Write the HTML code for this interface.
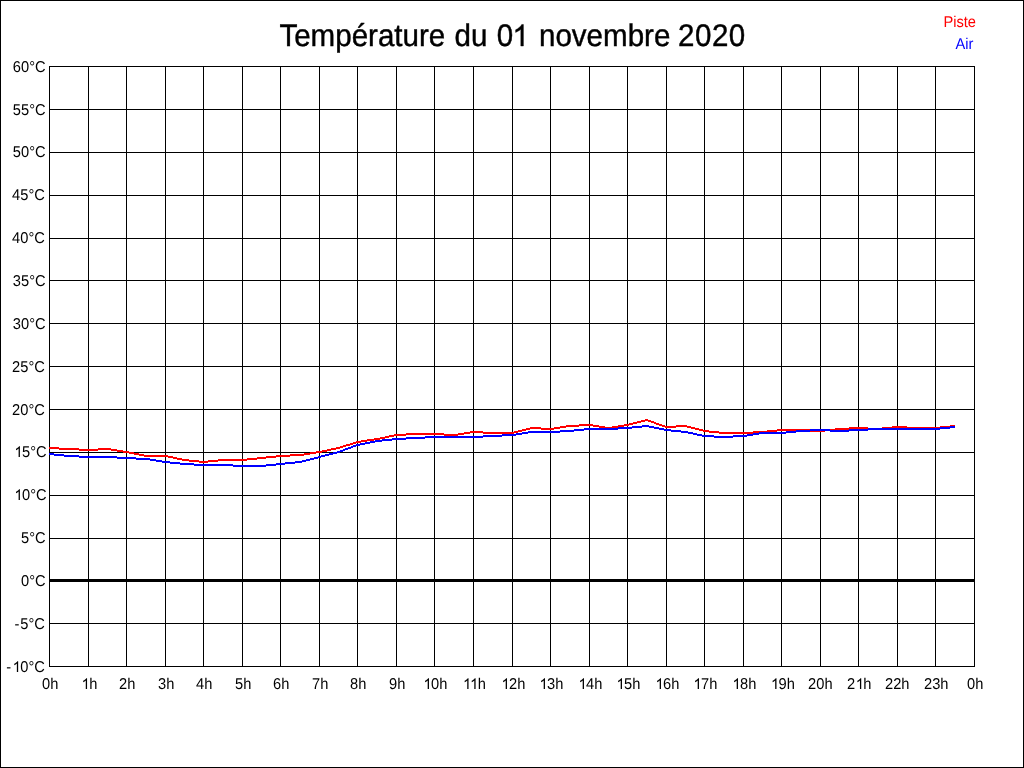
<!DOCTYPE html>
<html><head><meta charset="utf-8"><title>Température du 01 novembre 2020</title>
<style>html,body{margin:0;padding:0;background:#fff;overflow:hidden}svg{display:block}text{font-family:"Liberation Sans",sans-serif;text-rendering:geometricPrecision}.tx{will-change:transform}.l{font-size:14.67px}.t{font-size:29.55px;stroke:#000;stroke-width:0.4px;word-spacing:1.1px}.h{fill:none;stroke:none}</style></head><body>
<svg width="1024" height="768" viewBox="0 0 1024 768">
<rect x="0" y="0" width="1024" height="768" fill="#fff"/>
<g shape-rendering="crispEdges">
<path fill="#000" fill-rule="evenodd" d="M0 0h1024v768h-1024zM1 1v766h1022v-766z"/>
<path fill="#000" d="M49 66h1v601h-1zM88 66h1v601h-1zM126 66h1v601h-1zM165 66h1v601h-1zM203 66h1v601h-1zM242 66h1v601h-1zM280 66h1v601h-1zM319 66h1v601h-1zM357 66h1v601h-1zM396 66h1v601h-1zM434 66h1v601h-1zM473 66h1v601h-1zM512 66h1v601h-1zM550 66h1v601h-1zM589 66h1v601h-1zM627 66h1v601h-1zM666 66h1v601h-1zM704 66h1v601h-1zM743 66h1v601h-1zM781 66h1v601h-1zM820 66h1v601h-1zM858 66h1v601h-1zM897 66h1v601h-1zM935 66h1v601h-1zM974 66h1v601h-1zM49 66h926v1h-926zM49 109h926v1h-926zM49 152h926v1h-926zM49 195h926v1h-926zM49 238h926v1h-926zM49 280h926v1h-926zM49 323h926v1h-926zM49 366h926v1h-926zM49 409h926v1h-926zM49 452h926v1h-926zM49 495h926v1h-926zM49 538h926v1h-926zM49 580h926v1h-926zM49 623h926v1h-926zM49 666h926v1h-926z"/>
<rect x="49" y="579" width="926" height="3" fill="#000"/>
<path fill="#f00" d="M49 447h10v2h-10zM59 448h20v2h-20zM79 449h19v2h-19zM98 448h13v2h-13zM111 449h6v2h-6zM117 450h6v2h-6zM123 451h6v2h-6zM129 452h5v2h-5zM134 453h5v2h-5zM139 454h5v2h-5zM144 455h24v2h-24zM168 456h5v2h-5zM173 457h4v2h-4zM177 458h5v2h-5zM182 459h7v2h-7zM189 460h10v2h-10zM199 461h9v2h-9zM208 460h10v2h-10zM218 459h29v2h-29zM247 458h10v2h-10zM257 457h9v2h-9zM266 456h10v2h-10zM276 455h14v2h-14zM290 454h14v2h-14zM304 453h6v2h-6zM310 452h6v2h-6zM316 451h6v2h-6zM322 450h5v2h-5zM327 449h4v2h-4zM331 448h5v2h-5zM336 447h4v2h-4zM340 446h3v2h-3zM343 445h3v2h-3zM346 444h4v2h-4zM350 443h3v2h-3zM353 442h3v2h-3zM356 441h5v2h-5zM361 440h6v2h-6zM367 439h7v2h-7zM374 438h6v2h-6zM380 437h5v2h-5zM385 436h4v2h-4zM389 435h5v2h-5zM394 434h12v2h-12zM406 433h38v2h-38zM444 434h14v2h-14zM458 433h6v2h-6zM464 432h6v2h-6zM470 431h13v2h-13zM483 432h31v2h-31zM514 431h4v2h-4zM518 430h4v2h-4zM522 429h4v2h-4zM526 428h4v2h-4zM530 427h11v2h-11zM541 428h13v2h-13zM554 427h6v2h-6zM560 426h6v2h-6zM566 425h13v2h-13zM579 424h14v2h-14zM593 425h6v2h-6zM599 426h6v2h-6zM605 427h7v2h-7zM612 426h6v2h-6zM618 425h6v2h-6zM624 424h5v2h-5zM629 423h4v2h-4zM633 422h4v2h-4zM637 421h4v2h-4zM641 420h4v2h-4zM645 419h3v2h-3zM648 420h3v2h-3zM651 421h3v2h-3zM654 422h2v2h-2zM656 423h3v2h-3zM659 424h3v2h-3zM662 425h3v2h-3zM665 426h11v2h-11zM676 425h11v2h-11zM687 426h4v2h-4zM691 427h4v2h-4zM695 428h4v2h-4zM699 429h4v2h-4zM703 430h6v2h-6zM709 431h10v2h-10zM719 432h34v2h-34zM753 431h14v2h-14zM767 430h10v2h-10zM777 429h33v2h-33zM810 430h15v2h-15zM825 429h10v2h-10zM835 428h14v2h-14zM849 427h19v2h-19zM868 428h14v2h-14zM882 427h10v2h-10zM892 426h15v2h-15zM907 427h33v2h-33zM940 426h10v2h-10zM950 425h5v2h-5z"/>
<path fill="#00f" d="M49 453h5v2h-5zM54 454h10v2h-10zM64 455h15v2h-15zM79 456h38v2h-38zM117 457h19v2h-19zM136 458h14v2h-14zM150 459h6v2h-6zM156 460h6v2h-6zM162 461h8v2h-8zM170 462h10v2h-10zM180 463h14v2h-14zM194 464h39v2h-39zM233 465h33v2h-33zM266 464h10v2h-10zM276 463h9v2h-9zM285 462h10v2h-10zM295 461h7v2h-7zM302 460h4v2h-4zM306 459h4v2h-4zM310 458h4v2h-4zM314 457h4v2h-4zM318 456h3v2h-3zM321 455h4v2h-4zM325 454h4v2h-4zM329 453h4v2h-4zM333 452h4v2h-4zM337 451h3v2h-3zM340 450h3v2h-3zM343 449h2v2h-2zM345 448h3v2h-3zM348 447h3v2h-3zM351 446h2v2h-2zM353 445h3v2h-3zM356 444h4v2h-4zM360 443h5v2h-5zM365 442h5v2h-5zM370 441h5v2h-5zM375 440h7v2h-7zM382 439h10v2h-10zM392 438h14v2h-14zM406 437h19v2h-19zM425 436h58v2h-58zM483 435h19v2h-19zM502 434h14v2h-14zM516 433h6v2h-6zM522 432h6v2h-6zM528 431h32v2h-32zM560 430h14v2h-14zM574 429h10v2h-10zM584 428h34v2h-34zM618 427h14v2h-14zM632 426h10v2h-10zM642 425h7v2h-7zM649 426h5v2h-5zM654 427h5v2h-5zM659 428h5v2h-5zM664 429h7v2h-7zM671 430h10v2h-10zM681 431h7v2h-7zM688 432h5v2h-5zM693 433h4v2h-4zM697 434h5v2h-5zM702 435h12v2h-12zM714 436h19v2h-19zM733 435h14v2h-14zM747 434h6v2h-6zM753 433h6v2h-6zM759 432h27v2h-27zM786 431h10v2h-10zM796 430h14v2h-14zM810 429h20v2h-20zM830 430h19v2h-19zM849 429h19v2h-19zM868 428h72v2h-72zM940 427h10v2h-10zM950 426h5v2h-5z"/>
</g>
<g class="tx">
<g transform="translate(279.4,46) scale(1,1.055)" fill="#000"><text class="t" text-anchor="start">Température du 0<tspan class="h">1</tspan> novembre <tspan dx="-1.6" letter-spacing="0.5">2020</tspan></text><path fill="#000" stroke="#000" stroke-width="0.4" d="M244.01 0.00L241.41 0.00L241.41 -15.91Q240.47 -15.05 238.95 -14.19Q237.43 -13.33 236.21 -12.90L236.21 -15.31Q238.39 -16.29 240.02 -17.70Q241.65 -19.10 242.33 -20.41L244.01 -20.41Z"/></g>
<g transform="translate(976,27) scale(1,1.07)" fill="#f00"><text class="l" text-anchor="end">Piste</text></g>
<g transform="translate(973.5,49) scale(1,1.07)" fill="#00f"><text class="l" text-anchor="end">Air</text></g>
<g transform="translate(45.6,72) scale(1,1.07)" fill="#000"><text class="l" text-anchor="end">60°C</text></g>
<g transform="translate(45.6,115) scale(1,1.07)" fill="#000"><text class="l" text-anchor="end">55°C</text></g>
<g transform="translate(45.6,157) scale(1,1.07)" fill="#000"><text class="l" text-anchor="end">50°C</text></g>
<g transform="translate(44.85,200) scale(1,1.07)" fill="#000"><text class="l" text-anchor="end">45°C</text></g>
<g transform="translate(44.85,243) scale(1,1.07)" fill="#000"><text class="l" text-anchor="end">40°C</text></g>
<g transform="translate(45.6,286) scale(1,1.07)" fill="#000"><text class="l" text-anchor="end">35°C</text></g>
<g transform="translate(45.6,329) scale(1,1.07)" fill="#000"><text class="l" text-anchor="end">30°C</text></g>
<g transform="translate(44.85,372) scale(1,1.07)" fill="#000"><text class="l" text-anchor="end">25°C</text></g>
<g transform="translate(44.85,415) scale(1,1.07)" fill="#000"><text class="l" text-anchor="end">20°C</text></g>
<g transform="translate(46.6,457) scale(1,1.07)" fill="#000"><text class="l" text-anchor="end"><tspan class="h">1</tspan>5°C</text><path fill="#000" d="M-26.70 0.00L-27.99 0.00L-27.99 -7.90Q-28.46 -7.47 -29.21 -7.04Q-29.97 -6.62 -30.57 -6.40L-30.57 -7.60Q-29.49 -8.09 -28.68 -8.78Q-27.87 -9.48 -27.53 -10.13L-26.70 -10.13Z"/></g>
<g transform="translate(46.6,500) scale(1,1.07)" fill="#000"><text class="l" text-anchor="end"><tspan class="h">1</tspan>0°C</text><path fill="#000" d="M-26.70 0.00L-27.99 0.00L-27.99 -7.90Q-28.46 -7.47 -29.21 -7.04Q-29.97 -6.62 -30.57 -6.40L-30.57 -7.60Q-29.49 -8.09 -28.68 -8.78Q-27.87 -9.48 -27.53 -10.13L-26.70 -10.13Z"/></g>
<g transform="translate(45.6,543) scale(1,1.07)" fill="#000"><text class="l" text-anchor="end">5°C</text></g>
<g transform="translate(45.6,586) scale(1,1.07)" fill="#000"><text class="l" text-anchor="end">0°C</text></g>
<g transform="translate(44.85,629) scale(1,1.07)" fill="#000"><text class="l" text-anchor="end">-<tspan dx="0.9">5</tspan>°C</text></g>
<g transform="translate(44.85,672) scale(1,1.07)" fill="#000"><text class="l" text-anchor="end">-<tspan class="h" dx="0.9">1</tspan>0°C</text><path fill="#000" d="M-26.70 0.00L-27.99 0.00L-27.99 -7.90Q-28.46 -7.47 -29.21 -7.04Q-29.97 -6.62 -30.57 -6.40L-30.57 -7.60Q-29.49 -8.09 -28.68 -8.78Q-27.87 -9.48 -27.53 -10.13L-26.70 -10.13Z"/></g>
<g transform="translate(50.25,689) scale(1,1.07)" fill="#000"><text class="l" text-anchor="middle">0h</text></g>
<g transform="translate(89.15,689) scale(1,1.07)" fill="#000"><text class="l" text-anchor="middle"><tspan class="h">1</tspan>h</text><path fill="#000" d="M-2.09 0.00L-3.38 0.00L-3.38 -7.90Q-3.85 -7.47 -4.60 -7.04Q-5.36 -6.62 -5.96 -6.40L-5.96 -7.60Q-4.88 -8.09 -4.07 -8.78Q-3.26 -9.48 -2.92 -10.13L-2.09 -10.13Z"/></g>
<g transform="translate(127.25,689) scale(1,1.07)" fill="#000"><text class="l" text-anchor="middle">2h</text></g>
<g transform="translate(166.25,689) scale(1,1.07)" fill="#000"><text class="l" text-anchor="middle">3h</text></g>
<g transform="translate(204.25,689) scale(1,1.07)" fill="#000"><text class="l" text-anchor="middle">4h</text></g>
<g transform="translate(243.25,689) scale(1,1.07)" fill="#000"><text class="l" text-anchor="middle">5h</text></g>
<g transform="translate(281.25,689) scale(1,1.07)" fill="#000"><text class="l" text-anchor="middle">6h</text></g>
<g transform="translate(320.25,689) scale(1,1.07)" fill="#000"><text class="l" text-anchor="middle">7h</text></g>
<g transform="translate(358.25,689) scale(1,1.07)" fill="#000"><text class="l" text-anchor="middle">8h</text></g>
<g transform="translate(397.25,689) scale(1,1.07)" fill="#000"><text class="l" text-anchor="middle">9h</text></g>
<g transform="translate(435.15,689) scale(1,1.07)" fill="#000"><text class="l" text-anchor="middle"><tspan class="h">1</tspan>0h</text><path fill="#000" d="M-6.17 0.00L-7.46 0.00L-7.46 -7.90Q-7.92 -7.47 -8.68 -7.04Q-9.44 -6.62 -10.04 -6.40L-10.04 -7.60Q-8.96 -8.09 -8.15 -8.78Q-7.34 -9.48 -7.00 -10.13L-6.17 -10.13Z"/></g>
<g transform="translate(474.15,689) scale(1,1.07)" fill="#000"><text class="l" text-anchor="middle"><tspan class="h">1</tspan><tspan class="h">1</tspan>h</text><path fill="#000" d="M-5.62 0.00L-6.91 0.00L-6.91 -7.90Q-7.38 -7.47 -8.13 -7.04Q-8.89 -6.62 -9.49 -6.40L-9.49 -7.60Q-8.41 -8.09 -7.60 -8.78Q-6.79 -9.48 -6.45 -10.13L-5.62 -10.13Z"/><path fill="#000" d="M1.44 0.00L0.15 0.00L0.15 -7.90Q-0.31 -7.47 -1.07 -7.04Q-1.83 -6.62 -2.43 -6.40L-2.43 -7.60Q-1.35 -8.09 -0.54 -8.78Q0.27 -9.48 0.61 -10.13L1.44 -10.13Z"/></g>
<g transform="translate(513.15,689) scale(1,1.07)" fill="#000"><text class="l" text-anchor="middle"><tspan class="h">1</tspan>2h</text><path fill="#000" d="M-6.17 0.00L-7.46 0.00L-7.46 -7.90Q-7.92 -7.47 -8.68 -7.04Q-9.44 -6.62 -10.04 -6.40L-10.04 -7.60Q-8.96 -8.09 -8.15 -8.78Q-7.34 -9.48 -7.00 -10.13L-6.17 -10.13Z"/></g>
<g transform="translate(551.15,689) scale(1,1.07)" fill="#000"><text class="l" text-anchor="middle"><tspan class="h">1</tspan>3h</text><path fill="#000" d="M-6.17 0.00L-7.46 0.00L-7.46 -7.90Q-7.92 -7.47 -8.68 -7.04Q-9.44 -6.62 -10.04 -6.40L-10.04 -7.60Q-8.96 -8.09 -8.15 -8.78Q-7.34 -9.48 -7.00 -10.13L-6.17 -10.13Z"/></g>
<g transform="translate(590.15,689) scale(1,1.07)" fill="#000"><text class="l" text-anchor="middle"><tspan class="h">1</tspan>4h</text><path fill="#000" d="M-6.17 0.00L-7.46 0.00L-7.46 -7.90Q-7.92 -7.47 -8.68 -7.04Q-9.44 -6.62 -10.04 -6.40L-10.04 -7.60Q-8.96 -8.09 -8.15 -8.78Q-7.34 -9.48 -7.00 -10.13L-6.17 -10.13Z"/></g>
<g transform="translate(628.15,689) scale(1,1.07)" fill="#000"><text class="l" text-anchor="middle"><tspan class="h">1</tspan>5h</text><path fill="#000" d="M-6.17 0.00L-7.46 0.00L-7.46 -7.90Q-7.92 -7.47 -8.68 -7.04Q-9.44 -6.62 -10.04 -6.40L-10.04 -7.60Q-8.96 -8.09 -8.15 -8.78Q-7.34 -9.48 -7.00 -10.13L-6.17 -10.13Z"/></g>
<g transform="translate(667.15,689) scale(1,1.07)" fill="#000"><text class="l" text-anchor="middle"><tspan class="h">1</tspan>6h</text><path fill="#000" d="M-6.17 0.00L-7.46 0.00L-7.46 -7.90Q-7.92 -7.47 -8.68 -7.04Q-9.44 -6.62 -10.04 -6.40L-10.04 -7.60Q-8.96 -8.09 -8.15 -8.78Q-7.34 -9.48 -7.00 -10.13L-6.17 -10.13Z"/></g>
<g transform="translate(705.15,689) scale(1,1.07)" fill="#000"><text class="l" text-anchor="middle"><tspan class="h">1</tspan>7h</text><path fill="#000" d="M-6.17 0.00L-7.46 0.00L-7.46 -7.90Q-7.92 -7.47 -8.68 -7.04Q-9.44 -6.62 -10.04 -6.40L-10.04 -7.60Q-8.96 -8.09 -8.15 -8.78Q-7.34 -9.48 -7.00 -10.13L-6.17 -10.13Z"/></g>
<g transform="translate(744.15,689) scale(1,1.07)" fill="#000"><text class="l" text-anchor="middle"><tspan class="h">1</tspan>8h</text><path fill="#000" d="M-6.17 0.00L-7.46 0.00L-7.46 -7.90Q-7.92 -7.47 -8.68 -7.04Q-9.44 -6.62 -10.04 -6.40L-10.04 -7.60Q-8.96 -8.09 -8.15 -8.78Q-7.34 -9.48 -7.00 -10.13L-6.17 -10.13Z"/></g>
<g transform="translate(782.65,689) scale(1,1.07)" fill="#000"><text class="l" text-anchor="middle"><tspan class="h">1</tspan>9h</text><path fill="#000" d="M-6.17 0.00L-7.46 0.00L-7.46 -7.90Q-7.92 -7.47 -8.68 -7.04Q-9.44 -6.62 -10.04 -6.40L-10.04 -7.60Q-8.96 -8.09 -8.15 -8.78Q-7.34 -9.48 -7.00 -10.13L-6.17 -10.13Z"/></g>
<g transform="translate(820.35,689) scale(1,1.07)" fill="#000"><text class="l" text-anchor="middle">20h</text></g>
<g transform="translate(859.25,689) scale(1,1.07)" fill="#000"><text class="l" text-anchor="middle">2<tspan class="h">1</tspan>h</text><path fill="#000" d="M1.99 0.00L0.70 0.00L0.70 -7.90Q0.23 -7.47 -0.52 -7.04Q-1.28 -6.62 -1.88 -6.40L-1.88 -7.60Q-0.80 -8.09 0.01 -8.78Q0.82 -9.48 1.16 -10.13L1.99 -10.13Z"/></g>
<g transform="translate(897.25,689) scale(1,1.07)" fill="#000"><text class="l" text-anchor="middle">22h</text></g>
<g transform="translate(936.25,689) scale(1,1.07)" fill="#000"><text class="l" text-anchor="middle">23h</text></g>
<g transform="translate(975.25,689) scale(1,1.07)" fill="#000"><text class="l" text-anchor="middle">0h</text></g>
</g>
</svg></body></html>
